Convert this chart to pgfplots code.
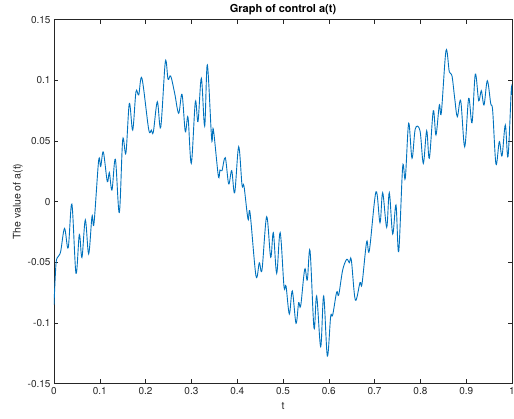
\documentclass[border=0pt]{standalone}
\usepackage{pgfplots}
\pgfplotsset{compat=1.18}
\usepackage{fontspec}
\setmainfont{TeX Gyre Heros}
\definecolor{mlblue}{rgb}{0,0.447,0.741}
\definecolor{axgray}{rgb}{0.15,0.15,0.15}
\begin{document}
\begin{tikzpicture}
\begin{axis}[
  name=ax,
  scale only axis,
  width=458pt, height=364pt,
  xmin=0, xmax=1, ymin=-0.15, ymax=0.15,
  xtick={0,0.1,0.2,0.3,0.4,0.5,0.6,0.7,0.8,0.9,1},
  ytick={-0.15,-0.1,-0.05,0,0.05,0.1,0.15},
  xticklabels={0,0.1,0.2,0.3,0.4,0.5,0.6,0.7,0.8,0.9,1},
  yticklabels={-0.15,-0.1,-0.05,0,0.05,0.1,0.15},
  tick pos=both,
  tick align=inside,
  major tick length=4.5pt,
  axis line style={axgray, line width=0.6pt},
  every tick/.style={axgray, line width=0.6pt},
  tick label style={font=\fontsize{10}{12}\selectfont, text=axgray},
  /pgf/number format/assume math mode=true,
  xlabel={t},
  ylabel={The value of a(t)},
  label style={font=\fontsize{10.5}{12}\selectfont, text=axgray},
  xlabel style={yshift=-1pt},
  ylabel style={yshift=-2pt},
  title={Graph of control a(t)},
  title style={font=\bfseries\fontsize{11}{12}\selectfont, yshift=-5pt},
]
\addplot[mlblue, line width=0.9pt, smooth, tension=0.55] table {
t v
0 -0.085
0.0044 -0.051
0.0095 -0.045
0.0146 -0.041
0.023 -0.022
0.031 -0.038
0.039 -0.002
0.048 -0.059
0.0553 -0.027
0.061 -0.046
0.0684 -0.015
0.0757 -0.043
0.083 -0.012
0.0873 -0.018
0.0975 0.034
0.102 0.029
0.1077 0.041
0.1164 0.0165
0.1208 0.024
0.1266 0.0096
0.134 0.035
0.1426 -0.009
0.150 0.051
0.157 0.040
0.1645 0.081
0.1718 0.059
0.179 0.0907
0.185 0.088
0.192 0.1017
0.2067 0.0597
0.2125 0.059
0.2169 0.0574
0.2256 0.0824
0.233 0.0613
0.2431 0.1154
0.249 0.1009
0.2548 0.1036
0.2635 0.0893
0.2722 0.0729
0.2795 0.0885
0.2867 0.0577
0.2926 0.0696
0.2998 0.0316
0.3086 0.0824
0.3144 0.066
0.3217 0.1017
0.329 0.0624
0.3348 0.1127
0.3443 0.0514
0.3479 0.0597
0.3588 0.0212
0.3624 0.0261
0.3668 0.0256
0.374 0.0363
0.3814 0.0146
0.388 0.0256
0.3945 0.0074
0.4032 0.0453
0.4105 0.0138
0.4148 0.0129
0.4236 -0.0145
0.428 -0.009
0.441 -0.0612
0.4483 -0.0503
0.4541 -0.0563
0.4643 -0.0124
0.4731 -0.0458
0.4789 -0.0255
0.4862 -0.059
0.4938 -0.0255
0.5022 -0.070
0.5066 -0.0695
0.5138 -0.0926
0.5203 -0.0736
0.5284 -0.1002
0.5342 -0.0832
0.5386 -0.086
0.5474 -0.0557
0.5531 -0.0645
0.559 -0.0404
0.5677 -0.1043
0.5735 -0.0777
0.5823 -0.1195
0.5888 -0.0777
0.5968 -0.1272
0.604 -0.0948
0.6085 -0.0934
0.6172 -0.0744
0.6216 -0.0769
0.6303 -0.0563
0.6391 -0.0475
0.6448 -0.0503
0.6492 -0.048
0.6579 -0.081
0.6681 -0.0667
0.6725 -0.0678
0.6827 -0.033
0.6885 -0.0404
0.703 0.0082
0.7118 -0.0173
0.7176 0.0074
0.7264 -0.0211
0.7321 0.0074
0.7395 -0.0266
0.7467 -0.0027
0.7526 -0.0412
0.7613 0.0288
0.767 0.0193
0.7744 0.0646
0.7817 0.0358
0.7889 0.0602
0.7991 0.0585
0.8064 0.0316
0.8137 0.0585
0.8195 0.0358
0.8282 0.075
0.834 0.055
0.8413 0.0797
0.8457 0.0733
0.8559 0.1245
0.8631 0.1071
0.869 0.1036
0.8749 0.0852
0.8806 0.070
0.888 0.0832
0.8967 0.0453
0.9054 0.0852
0.9127 0.0651
0.9199 0.1052
0.9273 0.0832
0.933 0.0915
0.9389 0.0797
0.9461 0.0997
0.9535 0.081
0.9578 0.075
0.965 0.031
0.9723 0.0495
0.9782 0.0377
0.9854 0.0632
0.9913 0.0371
0.9985 0.0926
1.0 0.088
};
\end{axis}
\pgfresetboundingbox
\path ([shift={(-54pt,-34.3pt)}]ax.south west) rectangle ([shift={(2pt,19.7pt)}]ax.north east);
\end{tikzpicture}
\end{document}
